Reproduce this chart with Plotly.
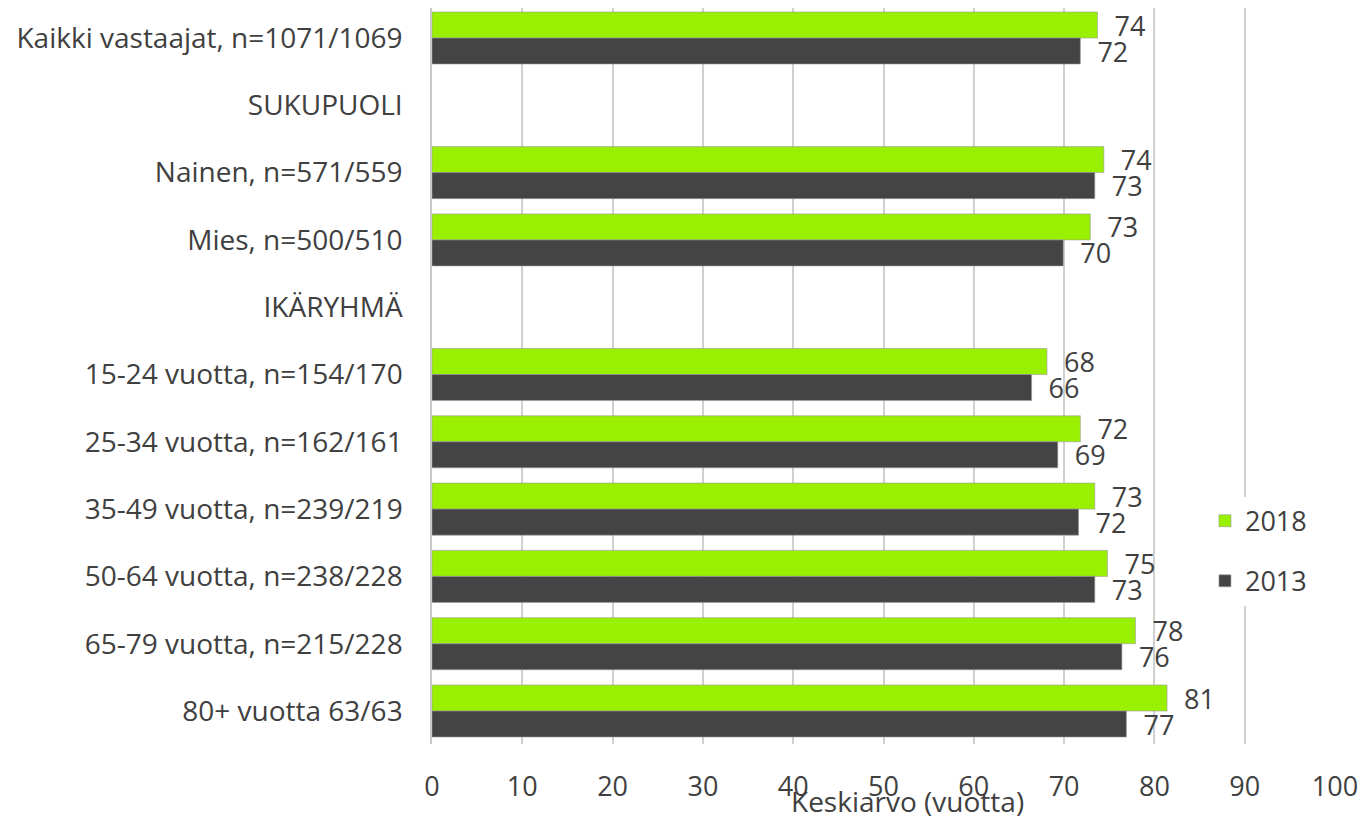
import plotly.graph_objects as go

categories = [
    "Kaikki vastaajat, n=1071/1069",
    "SUKUPUOLI",
    "Nainen, n=571/559",
    "Mies, n=500/510",
    "IKÄRYHMÄ",
    "15-24 vuotta, n=154/170",
    "25-34 vuotta, n=162/161",
    "35-49 vuotta, n=239/219",
    "50-64 vuotta, n=238/228",
    "65-79 vuotta, n=215/228",
    "80+ vuotta 63/63",
]
values_2018 = [73.7, None, 74.4, 72.9, None, 68.1, 71.8, 73.4, 74.8, 77.9, 81.4]
values_2013 = [71.8, None, 73.4, 69.9, None, 66.4, 69.3, 71.6, 73.4, 76.4, 76.9]
x_ticks = [0, 10, 20, 30, 40, 50, 60, 70, 80, 90, 100]

GREEN = "#99f000"
DARK = "#444444"
TEXT = "#404040"
FONT = "Open Sans"


def labels(vals):
    return ["  " + str(round(v)) if v is not None else "" for v in vals]


fig = go.Figure()
for name, vals, col in [("2018", values_2018, GREEN), ("2013", values_2013, DARK)]:
    fig.add_trace(go.Bar(
        y=categories, x=vals, name=name, orientation="h",
        marker=dict(color=col, line=dict(color="#9a9a9a", width=0.6)),
        text=labels(vals), textposition="outside", constraintext="none",
        textfont=dict(family=FONT, size=27, color=TEXT),
        cliponaxis=False, legendgroup=name,
    ))

# the page adds an 8px body margin, so the margins below are shifted by it
fig.update_layout(
    width=1367, height=817,
    margin=dict(l=424, r=40, t=0, b=81),
    barmode="group", bargap=0.227, bargroupgap=0,
    plot_bgcolor="white", paper_bgcolor="white",
    font=dict(family=FONT, color=TEXT),
    legend=dict(
        x=0.856, y=0.262, xanchor="left", yanchor="middle",
        font=dict(family=FONT, size=27, color=TEXT),
        bgcolor="white", tracegroupgap=22, itemwidth=30,
    ),
)
fig.update_xaxes(
    range=[0, 100], tickvals=x_ticks, showgrid=True, gridcolor="#d0d0d0", gridwidth=1.5,
    zeroline=False, showline=False, ticks="", automargin=False,
    tickfont=dict(family=FONT, size=27, color=TEXT), ticklabelstandoff=24,
)
fig.update_yaxes(
    range=[10.49, -0.446], showline=True, linecolor="#c8c8c8", linewidth=1.5,
    ticks="", automargin=False,
    tickfont=dict(family=FONT, size=28, color=TEXT), ticklabelstandoff=22,
)
fig.add_annotation(
    text="Keskiarvo (vuotta)", xref="x", yref="paper", x=52.7, y=-0.077,
    showarrow=False, font=dict(family=FONT, size=28, color=TEXT),
    xanchor="center", yanchor="middle",
)

fig.write_html("out.html")
